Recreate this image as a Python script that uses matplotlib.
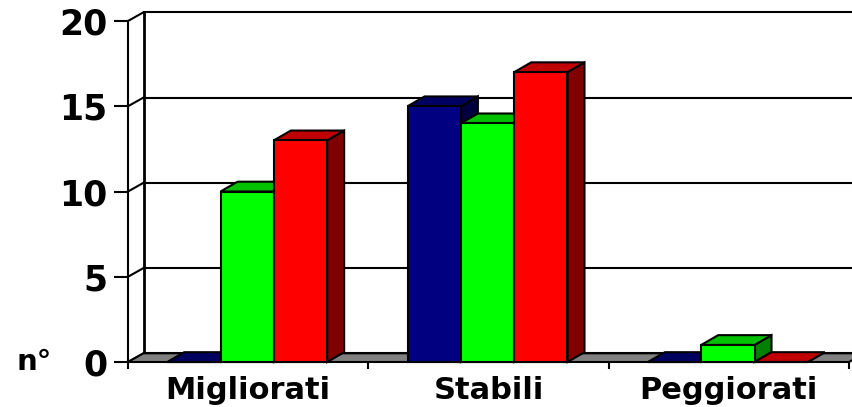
import matplotlib
matplotlib.use("Agg")
import matplotlib.pyplot as plt
from matplotlib.patches import Polygon

categories = ["Migliorati", "Stabili", "Peggiorati"]
blue_values = [0, 15, 0]
green_values = [10, 14, 1]
red_values = [13, 17, 0]
y_ticks = [0, 5, 10, 15, 20]
y_label = "n°"

W, H = 852, 407
L, R, T, B = 128, 849, 21, 362  # plot frame in pixels
fig = plt.figure(figsize=(W / 100, H / 100), dpi=100)
ax = fig.add_axes([L / W, 1 - B / H, (R - L) / W, (B - T) / H])
ax.set_xlim(0, 3)
ax.set_ylim(0, 20)
ux = 3 / (R - L)      # data units per pixel
uy = 20 / (B - T)
wall_dx, wall_dy = 15.5 * ux, 8.7 * uy
bar_dx, bar_dy = 17 * ux, 9.8 * uy
LW = 1.5
BLK = "black"

for s in ax.spines.values():
    s.set_visible(False)
ax.patch.set_visible(False)

# floor
ax.add_patch(Polygon([(0, 0), (3, 0), (3 + wall_dx, wall_dy), (wall_dx, wall_dy)],
                     closed=True, fc="#808080", ec=BLK, lw=LW, clip_on=False, zorder=2))
# walls and gridlines
ax.plot([0, 0], [0, 20], color=BLK, lw=LW, clip_on=False, zorder=1)
ax.plot([wall_dx, wall_dx], [wall_dy, 20 + wall_dy], color=BLK, lw=2, clip_on=False, zorder=1)
for t in y_ticks:
    ax.plot([0, wall_dx], [t, t + wall_dy], color=BLK, lw=LW, clip_on=False, zorder=1)
    ax.plot([wall_dx, 3 + wall_dx], [t + wall_dy] * 2, color=BLK, lw=LW, clip_on=False, zorder=1)

# bars
series = [
    (blue_values, "#000080", "#000060", "#000040"),
    (green_values, "#00ff00", "#00c000", "#008000"),
    (red_values, "#ff0000", "#c00000", "#800000"),
]
bw = 53.3 / (R - L) * 3
z = 3
for c in range(len(categories)):
    for j, (vals, front, top, side) in enumerate(series):
        v = vals[c]
        x0 = c + 0.5 + (j - 1.5) * bw - 0.004
        x1 = x0 + bw
        ax.add_patch(Polygon([(x1, 0), (x1 + bar_dx, bar_dy), (x1 + bar_dx, v + bar_dy), (x1, v)],
                             closed=True, fc=side, ec=BLK, lw=LW, clip_on=False, zorder=z))
        ax.add_patch(Polygon([(x0, v), (x1, v), (x1 + bar_dx, v + bar_dy), (x0 + bar_dx, v + bar_dy)],
                             closed=True, fc=top, ec=BLK, lw=LW, clip_on=False, zorder=z))
        ax.bar(x0, v, width=bw, align="edge", color=front, edgecolor=BLK, linewidth=LW,
               clip_on=False, zorder=z + 0.5)
        z += 1

ax.set_yticks(y_ticks)
ax.set_xticks([0, 1, 2, 3])
ax.set_xticklabels([])
ax.set_xticks([0.5, 1.5, 2.5], labels=categories, minor=True)
ax.tick_params(axis="y", length=10, width=1.5, pad=5, labelsize=25)
ax.tick_params(axis="x", which="major", length=5, width=1.5)
ax.tick_params(axis="x", which="minor", length=0, pad=10, labelsize=22)
for lab in ax.get_yticklabels() + ax.get_xticklabels(minor=True):
    lab.set_fontfamily("DejaVu Sans")
    lab.set_fontweight("bold")
ax.annotate(y_label, xy=(0, 0), xycoords="axes fraction", xytext=(-76, 0), textcoords="offset pixels",
            ha="right", va="center", fontsize=21, fontweight="bold", annotation_clip=False)

fig.savefig("out.png", dpi=100)
